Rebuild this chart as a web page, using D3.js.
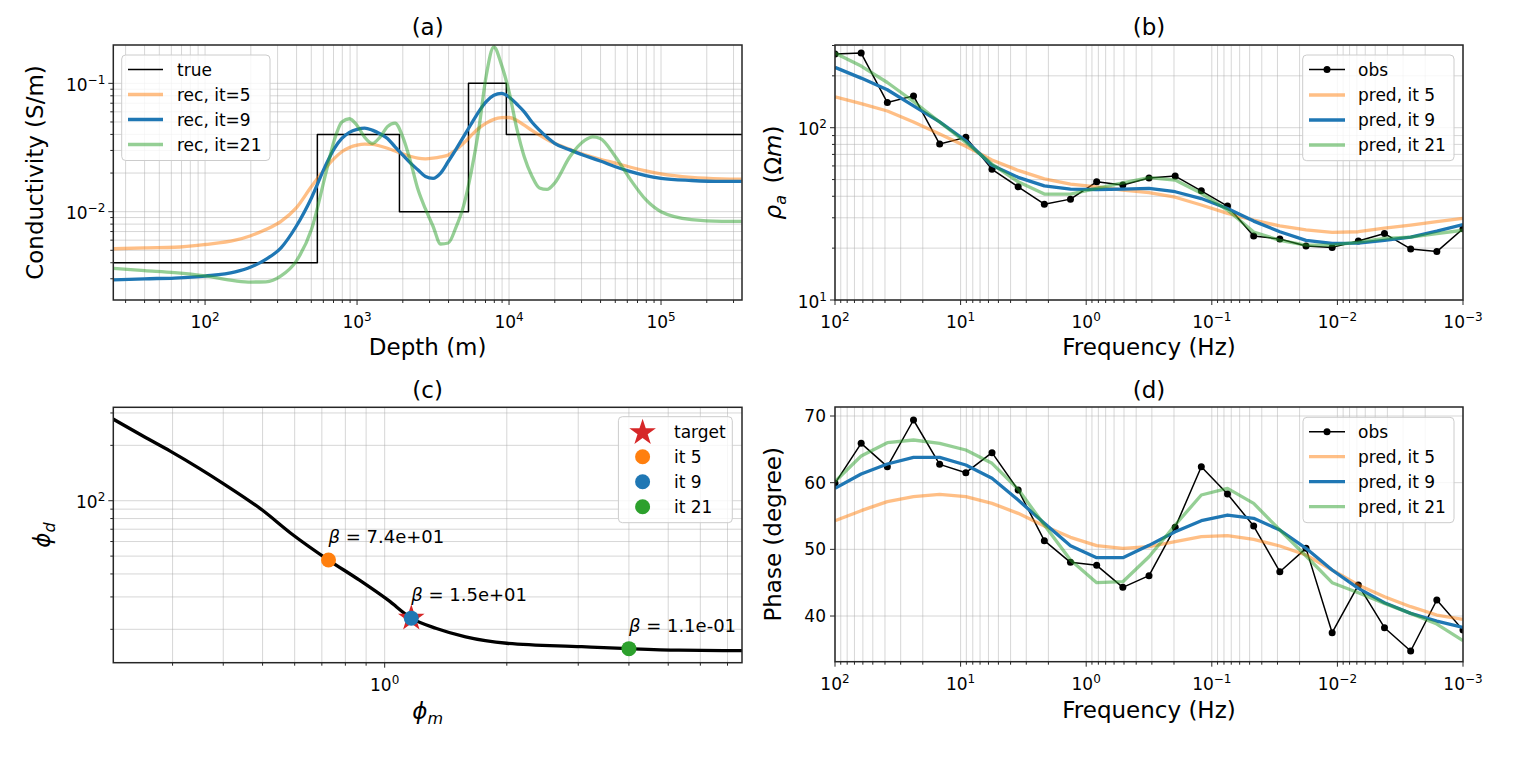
<!DOCTYPE html>
<html><head><meta charset="utf-8">
<script src="https://cdn.jsdelivr.net/npm/d3@7"></script>
<style>
body{margin:0;background:#fff;}
text{font-family:"DejaVu Sans",sans-serif;fill:#000;}
</style></head><body>
<svg id="chart" width="1536" height="758"></svg>
<script>
// ---------------- DATA ----------------
// (a) conductivity vs depth
const depth = [25,40,63,100,158,200,251,316,398,501,631,708,794,891,1000,1122,1259,1413,1585,1778,1995,2239,2512,2818,3162,3548,3981,4467,5012,5623,6310,7079,7943,8913,10000,11220,12589,14125,15849,17783,19953,25119,31623,35481,39811,50119,63096,79433,100000,158489,251189,338844];
const recIt5 = [0.00514,0.00523,0.00528,0.00555,0.0060,0.0065,0.00725,0.0084,0.0107,0.0157,0.0224,0.026,0.0293,0.0316,0.033,0.0336,0.0335,0.0325,0.0312,0.0297,0.0282,0.0270,0.0261,0.0258,0.0261,0.0267,0.0277,0.0303,0.0341,0.0392,0.0446,0.049,0.0524,0.0540,0.0542,0.0515,0.0472,0.0430,0.0395,0.0365,0.0341,0.0306,0.0277,0.0266,0.0256,0.0239,0.0222,0.0208,0.0197,0.0185,0.0180,0.0179];
const recIt9 = [0.00294,0.0030,0.00304,0.00315,0.00339,0.0037,0.00425,0.00523,0.0077,0.0128,0.0239,0.031,0.0372,0.0415,0.0438,0.0448,0.0432,0.0405,0.0372,0.0320,0.0277,0.0240,0.0212,0.0188,0.0182,0.0200,0.0246,0.0305,0.0383,0.048,0.060,0.072,0.0807,0.0835,0.0783,0.069,0.060,0.050,0.0432,0.038,0.0341,0.0303,0.0273,0.026,0.0248,0.0224,0.0205,0.0191,0.0182,0.0175,0.0172,0.0172];
const recIt21 = [0.00361,0.00347,0.00335,0.00316,0.00289,0.00283,0.00284,0.00316,0.00412,0.00725,0.0212,0.036,0.050,0.053,0.047,0.038,0.034,0.038,0.046,0.049,0.0384,0.025,0.015,0.0105,0.0077,0.0056,0.0057,0.0075,0.011,0.020,0.0432,0.115,0.192,0.140,0.0860,0.045,0.0268,0.019,0.0153,0.0149,0.0167,0.0268,0.0361,0.0383,0.0372,0.0268,0.0177,0.0124,0.0100,0.00867,0.0084,0.0084];
const trueTop = [24.9, 548, 1901, 5410, 9600];
const trueSigma = [0.004, 0.04, 0.01, 0.1, 0.04];
const depthLim = [24.9, 341000];
const sigmaLim = [0.00205, 0.199];

// (b),(d) data vs frequency
const freq = [100,61.90,38.31,23.71,14.68,9.085,5.623,3.481,2.154,1.334,0.8254,0.5109,0.3162,0.1957,0.1212,0.07499,0.04642,0.02873,0.01778,0.01101,0.006813,0.004217,0.002610,0.001616,0.001];
const rhoObs = [268,271,140,153,80.4,87.9,57.3,45.4,36.0,38.5,48.5,46.5,51,52.4,43.0,35.1,23.5,22.6,20.6,20.2,22.0,24.3,19.8,19.1,25.9];
const rhoIt5 = [151,138,125,108,92,78,65,56.5,50.5,47,45.4,43.5,42,39.5,35.6,31.8,29.1,26.9,25.5,24.7,24.9,26.1,27.2,28.5,29.8];
const rhoIt9 = [224,194,166,134,108,84,60.5,51.5,46,44,43.8,44,44.4,42.5,38.8,34,28.7,24.9,22.2,21.3,21.4,22.2,23.2,25.1,27.4];
const rhoIt21 = [271,228,183,142,108,82,61.5,48.5,41.2,41.2,44.5,47.9,51.3,49.7,41.6,33.3,24.8,22.2,20.8,20.8,21.7,22.8,23.2,24.3,25.4];
const phaseObs = [59.9,65.9,62.4,69.4,62.75,61.5,64.5,58.9,51.3,48.05,47.6,44.3,46.05,53.3,62.4,58.3,53.5,46.65,50.15,37.5,44.65,38.25,34.75,42.4,37.9];
const phaseIt5 = [54.3,55.8,57.15,57.9,58.25,57.9,56.9,55.4,53.5,51.8,50.55,50.15,50.4,51.15,51.9,52.05,51.5,50.5,49.15,46.9,44.65,42.9,41.4,40.15,39.5];
const phaseIt9 = [59.15,61.3,62.8,63.8,63.8,62.65,60.65,57.4,53.9,50.55,48.75,48.75,50.6,52.65,54.3,55.15,54.65,52.9,50.15,46.9,44.15,42.0,40.4,39.25,38.3];
const phaseIt21 = [60.15,64.0,66.0,66.4,65.9,64.9,62.9,59.0,53.65,48.4,45.0,45.15,48.9,53.65,58.15,59.15,56.9,52.9,49.0,45.0,43.5,41.9,40.4,38.8,36.3];
const freqLim = [100, 0.001];
const rhoLim = [10, 302];
const phaseLim = [33.15, 71.35];
const phaseTicks = [40, 50, 60, 70];

// (c) tradeoff curve
const phiM = [0.214,0.258,0.296,0.349,0.400,0.499,0.588,0.727,0.865,1.02,1.163,1.342,1.583,2.0,3.06,4.0,5.31,7.6];
const phiD = [278,220,186,150,124,89,66.4,47.6,37.1,28.8,23.0,20.2,18.2,16.8,16.1,15.7,15.4,15.3];
const itPhiM = [0.727, 1.163, 4.0];
const itPhiD = [47.6, 23.0, 15.7];
const itNames = ["it 5", "it 9", "it 21"];
const betaText = ["7.4e+01", "1.5e+01", "1.1e-01"];
const targetPt = [1.163, 23.0];
const phiMLim = [0.2143, 7.6];
const phiDLim = [13.17, 322];

// ---------------- STYLE / LAYOUT ----------------
const C = {blue:'#1f77b4', orange:'#ff7f0e', green:'#2ca02c', red:'#d62728'};
const FT = 17, FL = 23;
const svg = d3.select('#chart');

const boxA = {l:113.3, r:742, t:45, b:300};
const boxB = {l:835, r:1463, t:45, b:300};
const boxC = {l:113.3, r:742, t:407.3, b:662.7};
const boxD = {l:835, r:1463, t:407, b:661.7};

const xA = d3.scaleLog().domain(depthLim).range([boxA.l, boxA.r]);
const yA = d3.scaleLog().domain(sigmaLim).range([boxA.b, boxA.t]);
const xB = d3.scaleLog().domain(freqLim).range([boxB.l, boxB.r]);
const yB = d3.scaleLog().domain(rhoLim).range([boxB.b, boxB.t]);
const xC = d3.scaleLog().domain(phiMLim).range([boxC.l, boxC.r]);
const yC = d3.scaleLog().domain(phiDLim).range([boxC.b, boxC.t]);
const xD = d3.scaleLog().domain(freqLim).range([boxD.l, boxD.r]);
const yD = d3.scaleLinear().domain(phaseLim).range([boxD.b, boxD.t]);

function fmtExp(e){ return e < 0 ? '\u2212' + (-e) : '' + e; }
function logTicks(dom){
  const lo = Math.min(...dom), hi = Math.max(...dom);
  const major = [], minor = [];
  for (let e = Math.floor(Math.log10(lo)); e <= Math.ceil(Math.log10(hi)); e++) {
    for (let m = 1; m < 10; m++) {
      const v = m * Math.pow(10, e);
      if (v < lo * 0.9999 || v > hi * 1.0001) continue;
      (m === 1 ? major : minor).push({v, e});
    }
  }
  return {major, minor};
}
function supText(sel, x, y, anchor, e){
  const t = sel.append('text').attr('x', x).attr('y', y).attr('text-anchor', anchor).attr('font-size', FT);
  t.append('tspan').text('10');
  t.append('tspan').attr('font-size', 12).attr('dy', -7).text(fmtExp(e));
  return t;
}

let clipN = 0;
function panel(box, xs, ys, xt, yt){
  const g = svg.append('g');
  const id = 'clip' + (clipN++);
  g.append('clipPath').attr('id', id).append('rect')
    .attr('x', box.l).attr('y', box.t).attr('width', box.r - box.l).attr('height', box.b - box.t);
  const xT = xt === 'log' ? logTicks(xs.domain()) : {major: xt.map(v => ({v})), minor: []};
  const yT = yt === 'log' ? logTicks(ys.domain()) : {major: yt.map(v => ({v})), minor: []};
  const grid = g.append('g').attr('stroke', '#b0b0b0').attr('stroke-opacity', 0.5).attr('stroke-width', 1);
  xT.major.concat(xT.minor).forEach(d => grid.append('line')
    .attr('x1', xs(d.v)).attr('x2', xs(d.v)).attr('y1', box.t).attr('y2', box.b));
  yT.major.concat(yT.minor).forEach(d => grid.append('line')
    .attr('y1', ys(d.v)).attr('y2', ys(d.v)).attr('x1', box.l).attr('x2', box.r));
  const data = g.append('g').attr('clip-path', `url(#${id})`);
  const over = g.append('g');
  over.append('rect').attr('x', box.l).attr('y', box.t).attr('width', box.r - box.l).attr('height', box.b - box.t)
    .attr('fill', 'none').attr('stroke', '#262626').attr('stroke-width', 1.5);
  const tk = over.append('g').attr('stroke', '#262626').attr('stroke-width', 1);
  xT.major.forEach(d => tk.append('line').attr('x1', xs(d.v)).attr('x2', xs(d.v)).attr('y1', box.b).attr('y2', box.b + 5));
  xT.minor.forEach(d => tk.append('line').attr('x1', xs(d.v)).attr('x2', xs(d.v)).attr('y1', box.b).attr('y2', box.b + 3));
  yT.major.forEach(d => tk.append('line').attr('y1', ys(d.v)).attr('y2', ys(d.v)).attr('x1', box.l - 5).attr('x2', box.l));
  yT.minor.forEach(d => tk.append('line').attr('y1', ys(d.v)).attr('y2', ys(d.v)).attr('x1', box.l - 3).attr('x2', box.l));
  xT.major.forEach(d => {
    if (xt === 'log') supText(over, xs(d.v), box.b + 28, 'middle', d.e);
    else over.append('text').attr('x', xs(d.v)).attr('y', box.b + 24).attr('text-anchor', 'middle').attr('font-size', FT).text(d.v);
  });
  yT.major.forEach(d => {
    if (yt === 'log') supText(over, box.l - 8, ys(d.v) + 7.5, 'end', d.e);
    else over.append('text').attr('x', box.l - 9).attr('y', ys(d.v) + 6).attr('text-anchor', 'end').attr('font-size', FT).text(d.v);
  });
  return {g, data, over};
}

function drawLine(sel, xs, ys, X, Y, color, width, alpha, curve){
  const pts = X.map((x, i) => [xs(x), ys(Y[i])]);
  sel.append('path').attr('d', d3.line().curve(curve || d3.curveLinear)(pts))
    .attr('fill', 'none').attr('stroke', color).attr('stroke-width', width).attr('stroke-opacity', alpha)
    .attr('stroke-linejoin', 'round').attr('stroke-linecap', 'butt');
}
function drawObs(sel, xs, ys, X, Y){
  drawLine(sel, xs, ys, X, Y, '#000', 1.5, 1);
  sel.selectAll(null).data(X).join('circle').attr('cx', d => xs(d)).attr('cy', (d, i) => ys(Y[i])).attr('r', 3.5).attr('fill', '#000');
}
function legendBox(sel, x0, y0, x1, y1){
  sel.append('rect').attr('x', x0).attr('y', y0).attr('width', x1 - x0).attr('height', y1 - y0).attr('rx', 4)
    .attr('fill', '#fff').attr('fill-opacity', 0.8).attr('stroke', '#cccccc').attr('stroke-width', 1);
}
function lineLegend(sel, box, lx0, lx1, tx, rows, items){
  legendBox(sel, box[0], box[1], box[2], box[3]);
  items.forEach((it, i) => {
    const y = rows[i];
    sel.append('line').attr('x1', lx0).attr('x2', lx1).attr('y1', y).attr('y2', y)
      .attr('stroke', it.c).attr('stroke-width', it.w).attr('stroke-opacity', it.a);
    if (it.dot) sel.append('circle').attr('cx', (lx0 + lx1) / 2).attr('cy', y).attr('r', 3.5).attr('fill', '#000');
    sel.append('text').attr('x', tx).attr('y', y + 6).attr('font-size', FT).text(it.t);
  });
}
function title(x, y, s){ svg.append('text').attr('x', x).attr('y', y).attr('text-anchor', 'middle').attr('font-size', FL).text(s); }
function xLabel(x, y, s){ return svg.append('text').attr('x', x).attr('y', y).attr('text-anchor', 'middle').attr('font-size', FL).text(s); }
function yLabel(x, y){ return svg.append('text').attr('transform', `translate(${x},${y}) rotate(-90)`).attr('text-anchor', 'middle').attr('font-size', FL); }
function starPath(R){
  const r = R * 0.382, p = [];
  for (let i = 0; i < 10; i++) {
    const a = -Math.PI / 2 + i * Math.PI / 5, rr = i % 2 ? r : R;
    p.push([rr * Math.cos(a), rr * Math.sin(a)]);
  }
  return 'M' + p.map(q => q[0].toFixed(2) + ',' + q[1].toFixed(2)).join('L') + 'Z';
}

// ---------------- (a) ----------------
const pA = panel(boxA, xA, yA, 'log', 'log');
{
  const X = trueTop.concat([depthLim[1]]);
  const Y = trueSigma.concat([trueSigma[trueSigma.length - 1]]);
  drawLine(pA.data, xA, yA, X, Y, '#000', 1.5, 1, d3.curveStepAfter);
  drawLine(pA.data, xA, yA, depth, recIt5, C.orange, 3.3, 0.5, d3.curveMonotoneX);
  drawLine(pA.data, xA, yA, depth, recIt9, C.blue, 3.3, 1, d3.curveMonotoneX);
  drawLine(pA.data, xA, yA, depth, recIt21, C.green, 3.3, 0.5, d3.curveMonotoneX);
  lineLegend(pA.over, [121.7, 55, 270, 160.5], 128, 163, 177, [69.5, 94.5, 119.5, 144.5], [
    {c:'#000', w:1.5, a:1, t:'true'},
    {c:C.orange, w:3.3, a:0.5, t:'rec, it=5'},
    {c:C.blue, w:3.3, a:1, t:'rec, it=9'},
    {c:C.green, w:3.3, a:0.5, t:'rec, it=21'}]);
}
title((boxA.l + boxA.r) / 2, 35, '(a)');
xLabel((boxA.l + boxA.r) / 2, 355, 'Depth (m)');
yLabel(43, (boxA.t + boxA.b) / 2).text('Conductivity (S/m)');

// ---------------- (b) ----------------
const pB = panel(boxB, xB, yB, 'log', 'log');
drawObs(pB.data, xB, yB, freq, rhoObs);
drawLine(pB.data, xB, yB, freq, rhoIt5, C.orange, 3.3, 0.5);
drawLine(pB.data, xB, yB, freq, rhoIt9, C.blue, 3.3, 1);
drawLine(pB.data, xB, yB, freq, rhoIt21, C.green, 3.3, 0.5);
const predItems = [
  {c:'#000', w:1.5, a:1, t:'obs', dot:true},
  {c:C.orange, w:3.3, a:0.5, t:'pred, it 5'},
  {c:C.blue, w:3.3, a:1, t:'pred, it 9'},
  {c:C.green, w:3.3, a:0.5, t:'pred, it 21'}];
lineLegend(pB.over, [1302.7, 55, 1454, 160.7], 1309, 1345, 1358, [69.5, 95, 120, 145], predItems);
title((boxB.l + boxB.r) / 2, 35, '(b)');
xLabel((boxB.l + boxB.r) / 2, 355, 'Frequency (Hz)');
{
  const t = yLabel(781, (boxB.t + boxB.b) / 2);
  t.append('tspan').attr('font-style', 'italic').text('\u03c1');
  t.append('tspan').attr('font-style', 'italic').attr('font-size', 16).attr('dy', 5).text('a');
  t.append('tspan').attr('dy', -5).text('\u2002(\u03a9');
  t.append('tspan').attr('font-style', 'italic').text('m');
  t.append('tspan').text(')');
}

// ---------------- (c) ----------------
const pC = panel(boxC, xC, yC, 'log', 'log');
drawLine(pC.data, xC, yC, phiM, phiD, '#000', 3.3, 1, d3.curveMonotoneX);
pC.data.append('path').attr('d', starPath(14)).attr('transform', `translate(${xC(targetPt[0])},${yC(targetPt[1])})`).attr('fill', C.red);
const itColors = [C.orange, C.blue, C.green];
itPhiM.forEach((m, i) => {
  pC.data.append('circle').attr('cx', xC(m)).attr('cy', yC(itPhiD[i])).attr('r', 7.5).attr('fill', itColors[i]);
});
itPhiM.forEach((m, i) => {
  const t = pC.over.append('text').attr('x', xC(m)).attr('y', yC(itPhiD[i]) - 17).attr('font-size', 18);
  t.append('tspan').attr('font-style', 'italic').text('\u03b2');
  t.append('tspan').text(' = ' + betaText[i]);
});
{
  const lg = pC.over;
  legendBox(lg, 618.4, 416.7, 732.3, 522.7);
  const rows = [431.7, 456.7, 481.7, 506.7];
  lg.append('path').attr('d', starPath(14)).attr('transform', `translate(642.6,${rows[0] + 1})`).attr('fill', C.red);
  lg.append('text').attr('x', 674).attr('y', rows[0] + 6).attr('font-size', FT).text('target');
  itNames.forEach((n, i) => {
    lg.append('circle').attr('cx', 642.6).attr('cy', rows[i + 1]).attr('r', 7.5).attr('fill', itColors[i]);
    lg.append('text').attr('x', 674).attr('y', rows[i + 1] + 6).attr('font-size', FT).text(n);
  });
}
title((boxC.l + boxC.r) / 2, 398, '(c)');
{
  const t = xLabel((boxC.l + boxC.r) / 2, 719, '');
  t.append('tspan').attr('font-style', 'italic').text('\u03d5');
  t.append('tspan').attr('font-style', 'italic').attr('font-size', 16).attr('dy', 5).text('m');
  const u = yLabel(50, (boxC.t + boxC.b) / 2);
  u.append('tspan').attr('font-style', 'italic').text('\u03d5');
  u.append('tspan').attr('font-style', 'italic').attr('font-size', 16).attr('dy', 5).text('d');
}

// ---------------- (d) ----------------
const pD = panel(boxD, xD, yD, 'log', phaseTicks);
drawObs(pD.data, xD, yD, freq, phaseObs);
drawLine(pD.data, xD, yD, freq, phaseIt5, C.orange, 3.3, 0.5);
drawLine(pD.data, xD, yD, freq, phaseIt9, C.blue, 3.3, 1);
drawLine(pD.data, xD, yD, freq, phaseIt21, C.green, 3.3, 0.5);
lineLegend(pD.over, [1303, 417.3, 1454, 522.7], 1309, 1345, 1358, [431.7, 456.7, 481.7, 506.7], predItems);
title((boxD.l + boxD.r) / 2, 398, '(d)');
xLabel((boxD.l + boxD.r) / 2, 718, 'Frequency (Hz)');
yLabel(781, (boxD.t + boxD.b) / 2).text('Phase (degree)');
</script>
</body></html>
